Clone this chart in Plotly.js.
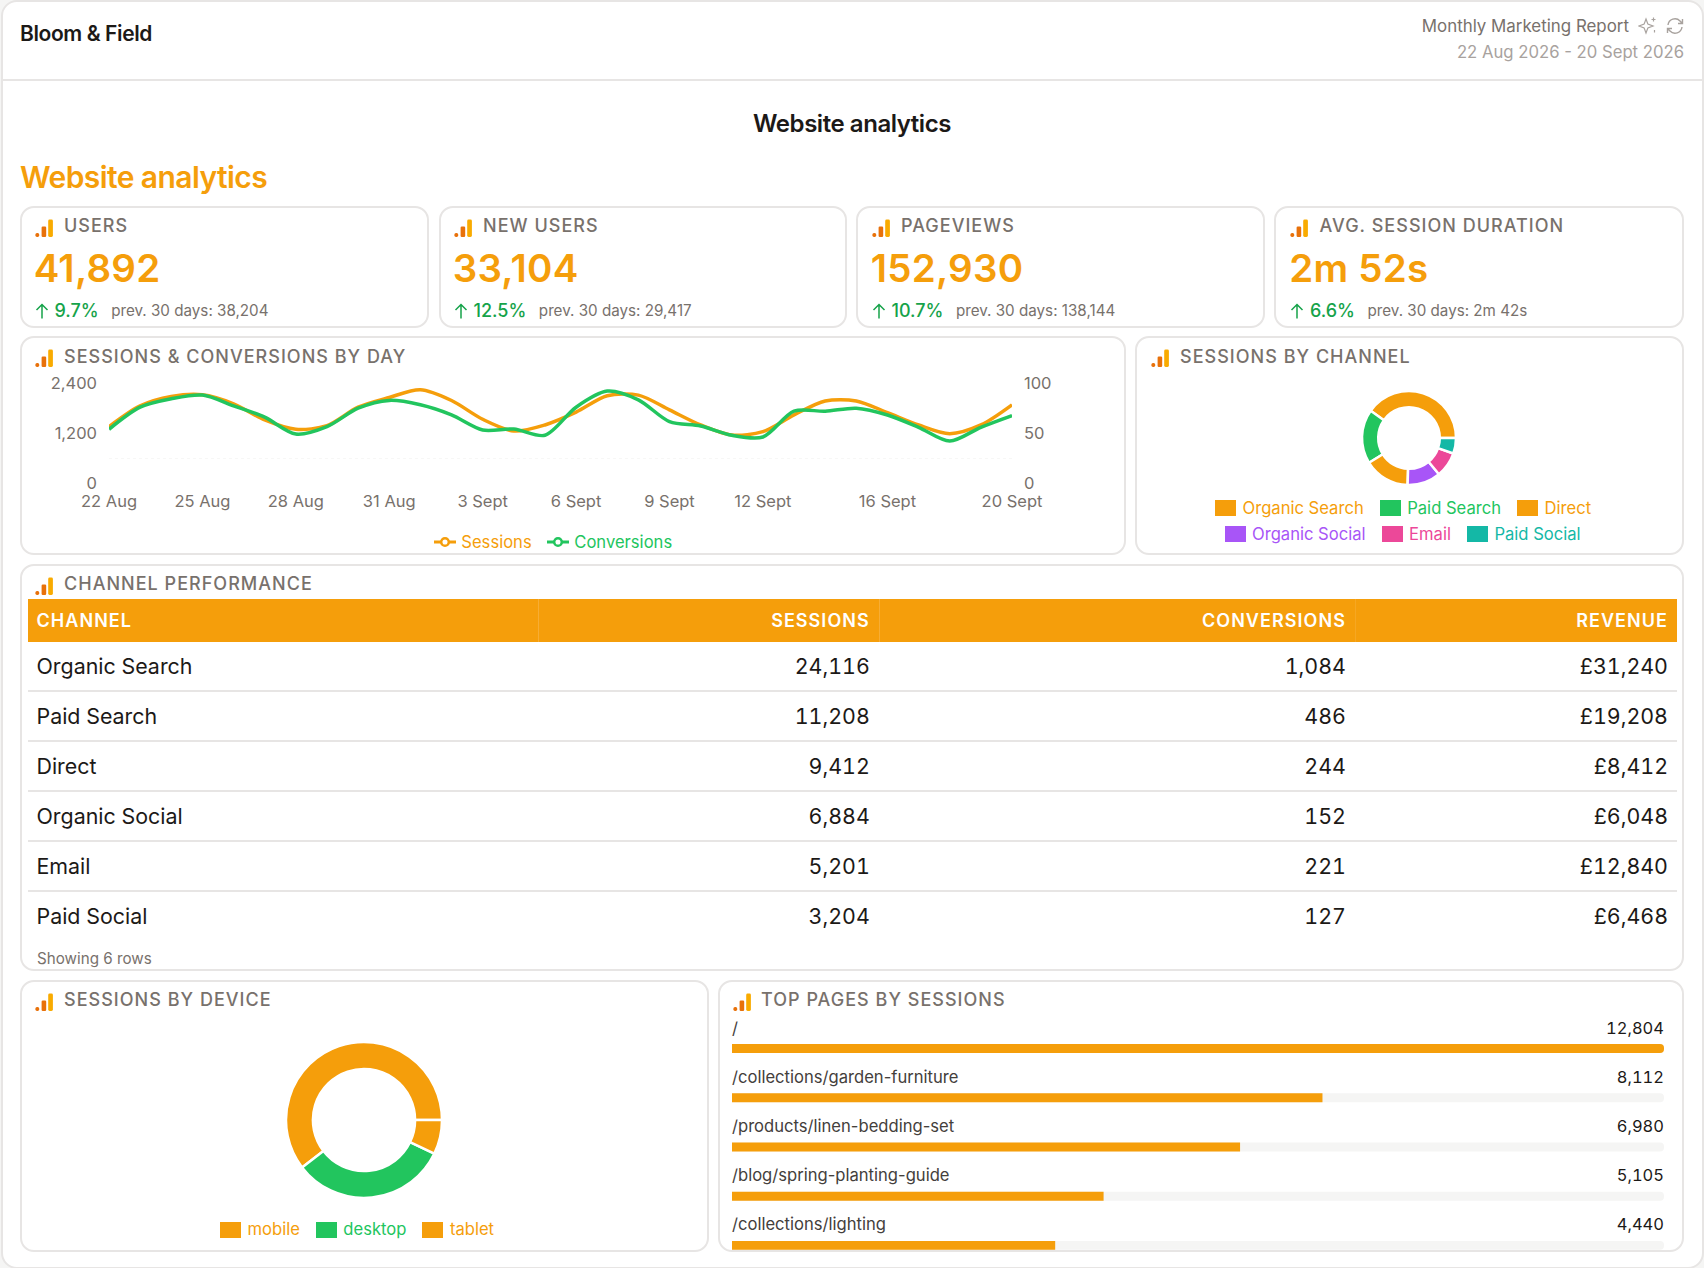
<!DOCTYPE html>
<html><head><meta charset="utf-8">
<script src="https://cdn.plot.ly/plotly-3.0.1.min.js"></script>
<style>
html,body{margin:0;padding:0;width:1704px;height:1268px;overflow:hidden;background:#f5f5f4;font-family:Inter,sans-serif;}
#page{position:absolute;left:0.5px;top:0;width:1699.5px;height:1265px;border:2px solid #e7e5e4;border-radius:16px;background:#fff;}
.abs{position:absolute;white-space:nowrap;}
.card{position:absolute;box-sizing:border-box;border:2px solid #e7e5e4;border-radius:14px;background:#fff;}
.t{position:absolute;white-space:nowrap;line-height:1;transform:translateY(-50%);}
.plot{position:absolute;}
.ctitle{font-size:18px;font-weight:550;letter-spacing:1.02px;color:#78716c;}
.hline{position:absolute;height:2px;background:#e7e5e4;}
.lg{position:absolute;display:flex;align-items:center;white-space:nowrap;font-size:16.6px;line-height:1;}
.sw{display:inline-block;width:21px;height:16px;margin-right:6.5px;}
.lgi{display:flex;align-items:center;margin-right:16px;}
#tbl text{font-family:Inter,sans-serif;font-variant-numeric:tabular-nums !important;font-feature-settings:"tnum" 1;}
#tbl #header text{letter-spacing:1.05px;font-weight:600;}
</style></head><body>
<div id="page"></div>
<div id="tbl" class="plot" style="left:27.5px;top:599px;width:1649.5px;height:346px"></div>
<div id="line" class="plot" style="left:22px;top:370px;width:1101px;height:182px"></div>
<div id="pie1" class="plot" style="left:1359px;top:388px;width:100px;height:100px"></div>
<div id="pie2" class="plot" style="left:283px;top:1039px;width:162px;height:162px"></div>
<div id="bars" class="plot" style="left:728px;top:1010px;width:940.3px;height:258px"></div>
<script>
// ---------- data ----------
const brand = "Bloom & Field";
const reportTitle = "Monthly Marketing Report";
const reportRange = "22 Aug 2026 - 20 Sept 2026";
const pageTitle = "Website analytics";
const kpiLabels = ["USERS","NEW USERS","PAGEVIEWS","AVG. SESSION DURATION"];
const kpiValues = ["41,892","33,104","152,930","2m 52s"];
const kpiDeltas = ["9.7%","12.5%","10.7%","6.6%"];
const kpiPrev = ["prev. 30 days: 38,204","prev. 30 days: 29,417","prev. 30 days: 138,144","prev. 30 days: 2m 42s"];

const days = ["22 Aug","23 Aug","24 Aug","25 Aug","26 Aug","27 Aug","28 Aug","29 Aug","30 Aug","31 Aug","1 Sept","2 Sept","3 Sept","4 Sept","5 Sept","6 Sept","7 Sept","8 Sept","9 Sept","10 Sept","11 Sept","12 Sept","13 Sept","14 Sept","15 Sept","16 Sept","17 Sept","18 Sept","19 Sept","20 Sept"];
const sessions = [1352,1850,2076,2117,1900,1513,1288,1376,1820,2053,2238,1980,1530,1248,1393,1700,2093,2109,1755,1393,1151,1232,1634,1970,1970,1690,1393,1183,1393,1876];
const conversions = [53.7,75.8,84.2,87.9,77.2,65.8,49,56.4,74.8,82.6,78.2,68.1,53,54,47.7,75.8,91.9,83.2,61.4,57,47.7,46,71.8,71.8,74.8,68,55.7,42,55.7,67.4];
const xTicks = ["22 Aug","25 Aug","28 Aug","31 Aug","3 Sept","6 Sept","9 Sept","12 Sept","16 Sept","20 Sept"];
const leftTicks = [0,1200,2400];
const rightTicks = [0,50,100];
const gridLevels = [0,600,2400];
const lineSeries = ["Sessions","Conversions"];
const lineColors = ["#f59e0b","#22c55e"];

const channels = ["Organic Search","Paid Search","Direct","Organic Social","Email","Paid Social"];
const channelSessions = [24116,11208,9412,6884,5201,3204];
const channelConversions = [1084,486,244,152,221,127];
const channelRevenue = [31240,19208,8412,6048,12840,6468];
const channelColors = ["#f59e0b","#22c55e","#f59e0b","#a855f7","#ec4899","#14b8a6"];
const tableHead = ["CHANNEL","SESSIONS","CONVERSIONS","REVENUE"];

const devices = ["mobile","desktop","tablet"];
const deviceShare = [60.4,32.5,7.1];
const deviceColors = ["#f59e0b","#22c55e","#f59e0b"];

const pages = ["/","/collections/garden-furniture","/products/linen-bedding-set","/blog/spring-planting-guide","/collections/lighting"];
const pageSessions = [12804,8112,6980,5105,4440];

// ---------- chrome ----------
const fmt = n => n.toLocaleString("en-GB");
const body = document.body;
function el(cls, style, html){const d=document.createElement("div");d.className=cls;d.style.cssText=style;if(html!==undefined)d.innerHTML=html;return d;}
function text(x,y,s,style){const d=el("t",`left:${x}px;top:${y}px;${style||""}`,s);body.appendChild(d);return d;}
function textR(xr,y,s,style){const d=el("t",`right:${1704-xr}px;top:${y}px;${style||""}`,s);body.appendChild(d);return d;}
function icon(x,bottom){
  const s=`<svg width="19" height="18" viewBox="0 0 19 18" style="position:absolute;left:${x}px;top:${bottom-18}px">
  <rect x="0.4" y="14" width="3.8" height="3.9" rx="1.6" fill="#e8710a"/>
  <rect x="6.6" y="7.6" width="4.6" height="10.3" rx="1.2" fill="#e8710a"/>
  <rect x="13.2" y="0.6" width="4.7" height="17.3" rx="1.4" fill="#f9ab00"/></svg>`;
  body.insertAdjacentHTML("beforeend",s);
}
function card(x0,y0,x1,y1){const c=el("card",`left:${x0}px;top:${y0}px;width:${x1-x0}px;height:${y1-y0}px`);document.getElementById("page").after(c);}
function title(x,y,s){text(x,y,s,"");body.lastChild.classList.add("ctitle");}

text(20,33,brand,"font-size:21px;font-weight:600;letter-spacing:-.4px;color:#1c1917;");
textR(1629,26,reportTitle,"font-size:16.9px;font-weight:400;color:#78716c;");
textR(1684,52,reportRange,"font-size:16.7px;color:#a8a29e;");
body.insertAdjacentHTML("beforeend",`<svg width="20" height="20" viewBox="0 0 20 20" style="position:absolute;left:1638px;top:16px" fill="none" stroke="#a8a29e" stroke-width="1.2"><path d="M8 3 L9.9 8.1 L15 10 L9.9 11.900 L8 17 L6.100 11.900 L1 10 L6.100 8.100 Z"/><path d="M15.500 1.500v4M13.500 3.500h4M16.500 14v2.500"/></svg>
<svg width="20" height="20" viewBox="0 0 20 20" style="position:absolute;left:1665px;top:16px" fill="none" stroke="#a8a29e" stroke-width="1.4"><path d="M3 9a7 7 0 0 1 12-4l2.5 2.5M17.5 3v4.5H13M17 11a7 7 0 0 1-12 4L2.5 12.5M2.500 17v-4.500H7"/></svg>`);
body.appendChild(el("hline","left:2.5px;top:79px;width:1699.500px;"));
text(852,123.5,pageTitle,"font-size:24px;font-weight:600;letter-spacing:-.45px;color:#1c1917;transform:translate(-50%,-50%);");
text(20,177,pageTitle,"font-size:30px;font-weight:600;letter-spacing:-.58px;color:#f59e0b;");

const kx0=[20,439,855.5,1274], kx1=[429,847,1265,1684];
const kx=[34.5,453.5,871.5,1290];
kpiLabels.forEach((l,i)=>{
  card(kx0[i],206,kx1[i],328);
  const x=kx[i];
  icon(x,236.5);
  title(x+29.5,225.5,l);
  text(x-0.8,268,kpiValues[i],"font-size:38.500px;font-weight:600;color:#f59e0b;letter-spacing:.25px;");
  body.insertAdjacentHTML("beforeend",`<svg width="14" height="16" viewBox="0 0 14 16" style="position:absolute;left:${x}px;top:303px" fill="none" stroke="#16a34a" stroke-width="1.5"><path d="M7 15.500V1.500M1.500 7 L7 1.500 L12.500 7"/></svg>`);
  const dw=text(x+20,310.500,kpiDeltas[i],"font-size:18px;font-weight:500;color:#16a34a;");
  const w=dw.getBoundingClientRect().width;
  text(x+20+w+12.5,311,kpiPrev[i],"font-size:15.2px;color:#78716c;");
});

card(20,336,1126,555);
icon(35,366.5);
title(64,356.5,"SESSIONS &amp; CONVERSIONS BY DAY");

card(1134.5,336,1684,555);
icon(1150.5,366.5);
title(1180,356.5,"SESSIONS BY CHANNEL");

function legend(x,y,idx,names,colors){
  const d=el("lg",`left:${x}px;top:${y-9}px;height:18px;`);
  d.innerHTML=idx.map(i=>`<span class="lgi" style="color:${colors[i]}"><span class="sw" style="background:${colors[i]}"></span>${names[i]}</span>`).join("");
  body.appendChild(d);
}
legend(1215,508,[0,1,2],channels,channelColors);
legend(1224.5,534,[3,4,5],channels,channelColors);

// line-chart legend
const lineLegendX=[434,547];
lineSeries.forEach((n,i)=>{
  body.insertAdjacentHTML("beforeend",`<svg width="22" height="12" viewBox="0 0 22 12" style="position:absolute;left:${lineLegendX[i]}px;top:536px"><path d="M0 6H22" stroke="${lineColors[i]}" stroke-width="3"/><circle cx="11" cy="6" r="3.800" fill="#fff" stroke="${lineColors[i]}" stroke-width="2.500"/></svg>`);
  text(lineLegendX[i]+27.3,542,n,`font-size:16.6px;color:${lineColors[i]};`);
});

card(20,564,1684,971);
icon(35,594.5);
title(64,583.5,"CHANNEL PERFORMANCE");
text(37,958.500,"Showing "+channels.length+" rows","font-size:15.2px;color:#78716c;");

card(20,980,708.5,1252);
icon(35,1010.5);
title(64,999.5,"SESSIONS BY DEVICE");
legend(220,1229.5,[0,1,2],devices,deviceColors);

card(717.5,980,1684,1252);
icon(733,1010.5);
title(761,999.5,"TOP PAGES BY SESSIONS");

// ---------- line chart ----------
const axisFont={family:"Inter, sans-serif",size:16.5,color:"#78716c"};
Plotly.newPlot("line",[
 {x:days,y:sessions,name:lineSeries[0],type:"scatter",mode:"lines",line:{color:lineColors[0],width:3.5,shape:"spline",smoothing:.85},yaxis:"y"},
 {x:days,y:conversions,name:lineSeries[1],type:"scatter",mode:"lines",line:{color:lineColors[1],width:3.5,shape:"spline",smoothing:.85},yaxis:"y2"}
],{
 width:1101,height:182,margin:{l:87,r:111,t:13.3,b:69.3},
 paper_bgcolor:"rgba(0,0,0,0)",plot_bgcolor:"rgba(0,0,0,0)",font:axisFont,showlegend:false,
 xaxis:{type:"category",categoryarray:days,range:[0,days.length-1],tickvals:xTicks,ticktext:xTicks,showgrid:false,zeroline:false,showline:false,ticks:"",tickangle:0,tickfont:axisFont,ticklabelstandoff:6,fixedrange:true},
 yaxis:{range:[0,2400],tickvals:leftTicks,ticktext:leftTicks.map(fmt),showgrid:false,zeroline:false,showline:false,ticks:"",tickfont:axisFont,ticklabelstandoff:11,fixedrange:true,
   minor:{tickvals:gridLevels,showgrid:true,gridcolor:"#f7f7f6",griddash:"dot",gridwidth:1,ticks:""}},
 yaxis2:{range:[0,100],tickvals:rightTicks,overlaying:"y",side:"right",showgrid:false,zeroline:false,showline:false,ticks:"",tickfont:axisFont,ticklabelstandoff:11,fixedrange:true}
},{displayModeBar:false,staticPlot:true});

// ---------- donuts ----------
function donut(id,labels,values,colors,m){
  const size=document.getElementById(id).offsetWidth;
  const total=values.reduce((a,b)=>a+b,0);
  // first slice runs counter-clockwise from 3 o'clock
  const rot=90-360*values[0]/total;
  Plotly.newPlot(id,[{type:"pie",labels,values,sort:false,direction:"counterclockwise",rotation:rot,hole:.655,textinfo:"none",hoverinfo:"label+value",marker:{colors,line:{color:"#fff",width:2.5}},showlegend:false}],
   {width:size,height:size,margin:{l:m,r:m,t:m,b:m},paper_bgcolor:"rgba(0,0,0,0)",showlegend:false},{displayModeBar:false,staticPlot:true});
}
donut("pie1",channels,channelSessions,channelColors,2.6);
donut("pie2",devices,deviceShare,deviceColors,2.8);

// ---------- table ----------
Plotly.newPlot("tbl",[{type:"table",columnwidth:[510.5,341,476,322],
 header:{values:tableHead,align:["left","right","right","right"],height:43,fill:{color:"#f59e0b"},line:{width:0,color:"#f59e0b"},font:{family:"Inter, sans-serif",size:18,color:"#fff",weight:600}},
 cells:{values:[channels,channelSessions.map(fmt),channelConversions.map(fmt),channelRevenue.map(v=>"£"+fmt(v))],align:["left","right","right","right"],height:50,fill:{color:"#fff"},line:{width:0,color:"#fff"},font:{family:"Inter, sans-serif",size:21.4,color:"#1c1917"}}
}],{width:1649.5,height:346,margin:{l:0,r:0,t:0,b:0},paper_bgcolor:"rgba(0,0,0,0)"},{displayModeBar:false,staticPlot:true}).then(()=>{
  document.querySelectorAll("#tbl .y-column").forEach((col,i)=>{
    const dx=i===0?0.5:-2;
    col.querySelectorAll(".cell-text").forEach(t=>{
      const isHead=!!t.closest("#header");
      t.style.translate=`${dx}px ${isHead?6.5:8.2}px`;
    });
  });
});
[691,741,791,841,891].forEach(y=>body.appendChild(el("hline",`left:27.5px;top:${y-1}px;width:1649.5px;`)));
[538,879].forEach(x=>body.appendChild(el("abs",`left:${x}px;top:599px;width:1px;height:43px;background:#f7ad33;`)));

// ---------- top pages ----------
const maxS=Math.max(...pageSessions);
const barAnn=[];
pages.forEach((p,i)=>{
  barAnn.push({x:0,y:p,xref:"x",yref:"y",text:p,showarrow:false,xanchor:"left",yanchor:"middle",xshift:-2,yshift:21,font:{family:"Inter, sans-serif",size:16.6,color:"#44403c"}});
  barAnn.push({x:maxS,y:p,xref:"x",yref:"y",text:fmt(pageSessions[i]),showarrow:false,width:80,align:"right",xanchor:"right",yanchor:"middle",xshift:2,yshift:21,font:{family:"Inter, sans-serif",size:16.5,color:"#1c1917"}});
});
Plotly.newPlot("bars",[
 {type:"bar",orientation:"h",y:pages,x:pages.map(()=>maxS),width:.182,marker:{color:"#f5f5f4"},hoverinfo:"skip",showlegend:false},
 {type:"bar",orientation:"h",y:pages,x:pageSessions,width:.182,marker:{color:"#f59e0b"},showlegend:false}
],{width:940.3,height:258,margin:{l:4,r:4,t:13.7,b:0},barmode:"overlay",barcornerradius:4.5,
 paper_bgcolor:"rgba(0,0,0,0)",plot_bgcolor:"rgba(0,0,0,0)",
 xaxis:{range:[0,maxS],visible:false,fixedrange:true},
 yaxis:{type:"category",categoryarray:pages,range:[4.46,-0.5],visible:false,fixedrange:true},
 annotations:barAnn,showlegend:false},{displayModeBar:false,staticPlot:true}).then(()=>{
  document.querySelectorAll("#bars .annotation text").forEach(t=>{
    if(/^[\d,]+$/.test(t.textContent)){
      t.style.setProperty("font-variant-numeric","tabular-nums","important");
      t.style.setProperty("font-feature-settings",'"tnum" 1');
    }
  });
});
</script>
</body></html>
